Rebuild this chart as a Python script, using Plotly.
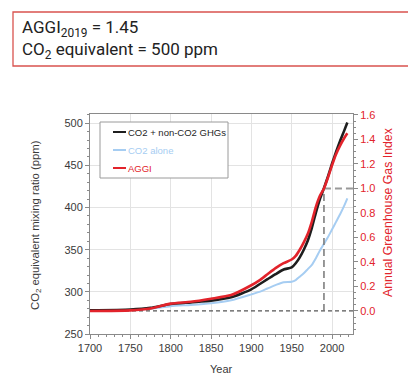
import plotly.graph_objects as go

# ---- data ----
years = [1700, 1750, 1775, 1800, 1825, 1850, 1875, 1900, 1910, 1920, 1930, 1940,
         1950, 1955, 1960, 1965, 1970, 1975, 1980, 1985, 1990, 1995, 2000, 2005,
         2010, 2015, 2019]
co2eq_ppm = [278, 279, 281, 285.5, 287.5, 289.5, 293.5, 303, 309, 315, 321, 326.5,
             329, 334, 341, 350, 361, 376, 394, 410, 423, 437, 452, 466,
             479, 491, 501]
co2_ppm = [278, 278.5, 280, 283, 284.5, 286.5, 290, 297, 300, 304, 308, 311.5,
           312, 314, 318, 322, 327, 332, 340, 349, 357, 365, 374, 383,
           392, 402, 411]
aggi = [0.0, 0.005, 0.02, 0.06, 0.075, 0.10, 0.13, 0.21, 0.25, 0.30, 0.35, 0.39,
        0.42, 0.45, 0.50, 0.56, 0.63, 0.73, 0.85, 0.94, 1.0, 1.09, 1.19, 1.28,
        1.35, 1.41, 1.45]
ref_year = 1990
ref_aggi = 1.0
x_end = 2026
legend_names = ["CO2 + non-CO2 GHGs", "CO2 alone", "AGGI"]

BLACK = "#1e1e1e"
BLUE = "#a6cdf2"
RED = "#e2232b"
GRAY_TXT = "#3a3a3a"
FONT = "Liberation Sans, Arial, sans-serif"

fig = go.Figure()
fig.add_trace(go.Scatter(x=years, y=co2_ppm, mode="lines",
                         line=dict(color=BLUE, width=2, shape="spline", smoothing=0.6),
                         showlegend=False))
fig.add_trace(go.Scatter(x=years, y=co2eq_ppm, mode="lines",
                         line=dict(color=BLACK, width=2.6, shape="spline", smoothing=0.6),
                         showlegend=False))
# reference dashed lines on AGGI axis
fig.add_trace(go.Scatter(x=[years[0], x_end], y=[0, 0], yaxis="y2", mode="lines",
                         line=dict(color="#555555", width=1.2, dash="4px,3px"),
                         showlegend=False))
fig.add_trace(go.Scatter(x=[ref_year, ref_year], y=[0, ref_aggi], yaxis="y2", mode="lines",
                         line=dict(color="#777777", width=1.5, dash="7px,4px"),
                         showlegend=False))
fig.add_trace(go.Scatter(x=[ref_year, x_end], y=[ref_aggi, ref_aggi], yaxis="y2", mode="lines",
                         line=dict(color="#999999", width=2, dash="7px,4px"),
                         showlegend=False))
fig.add_trace(go.Scatter(x=years, y=aggi, yaxis="y2", mode="lines",
                         line=dict(color=RED, width=2.6, shape="spline", smoothing=0.6),
                         showlegend=False))

# page has an 8px body margin; figure is 408x375 so it fills the 416x383 window
OFF = 8
FW, FH = 416 - OFF, 383 - OFF
# plot area in page pixels: x 90..353, y 114..334
L, R, T, B = 90, 353, 114, 334
W, H = R - L, B - T
def px(x):
    return (x - L) / W
def py(y):
    return (B - y) / H

shapes = []
annotations = []
# title box
shapes.append(dict(type="rect", xref="paper", yref="paper",
                   x0=px(13), x1=px(409), y0=py(66), y1=py(12),
                   line=dict(color="#d9534f", width=1.3), fillcolor="white"))
annotations.append(dict(xref="paper", yref="paper", x=px(20), y=py(39.5),
                        xanchor="left", yanchor="middle", showarrow=False, align="left",
                        text="AGGI<sub>2019</sub> = 1.45<br>CO<sub>2</sub> equivalent = 500 ppm",
                        font=dict(family="Roboto", size=17, color="#222222")))
# axis titles
annotations.append(dict(xref="paper", yref="paper", x=px(36), y=py(225),
                        xanchor="center", yanchor="middle", showarrow=False, textangle=-90,
                        text="CO<sub>2</sub> equivalent mixing ratio (ppm)",
                        font=dict(family=FONT, size=11.3, color=GRAY_TXT)))
annotations.append(dict(xref="paper", yref="paper", x=px(388), y=py(212),
                        xanchor="center", yanchor="middle", showarrow=False, textangle=-90,
                        text="Annual Greenhouse Gas Index",
                        font=dict(family=FONT, size=12.3, color=RED)))
annotations.append(dict(xref="paper", yref="paper", x=px(221), y=py(369),
                        xanchor="center", yanchor="middle", showarrow=False,
                        text="Year", font=dict(family=FONT, size=11, color=GRAY_TXT)))
# manual legend
shapes.append(dict(type="rect", xref="paper", yref="paper",
                   x0=px(100), x1=px(228), y0=py(178), y1=py(122),
                   line=dict(color="#9a9a9a", width=1), fillcolor="white"))
leg_colors = [BLACK, BLUE, RED]
for i, (name, c) in enumerate(zip(legend_names, leg_colors)):
    yy = 132 + 18 * i
    shapes.append(dict(type="line", xref="paper", yref="paper",
                       x0=px(113), x1=px(126), y0=py(yy), y1=py(yy),
                       line=dict(color=c, width=2)))
    annotations.append(dict(xref="paper", yref="paper", x=px(126), y=py(yy),
                            xanchor="left", yanchor="middle", showarrow=False,
                            text=name, font=dict(family=FONT, size=9.5, color=c)))

fig.update_layout(
    width=FW, height=FH,
    margin=dict(l=L - OFF, r=416 - R, t=T - OFF, b=383 - B),
    paper_bgcolor="white", plot_bgcolor="white",
    showlegend=False,
    font=dict(family=FONT, size=11, color=GRAY_TXT),
    shapes=shapes, annotations=annotations,
    xaxis=dict(range=[1700, x_end], tick0=1700, dtick=50, automargin=False,
               showgrid=True, gridcolor="#e3e3e3", gridwidth=1,
               showline=True, linecolor="#8a8a8a", linewidth=1, mirror=True,
               ticks="outside", ticklen=4, tickcolor="#8a8a8a",
               minor=dict(dtick=10, ticks="outside", ticklen=2, tickcolor="#8a8a8a", showgrid=False),
               zeroline=False,
               tickfont=dict(size=11, color=GRAY_TXT)),
    yaxis=dict(range=[250, 511], tick0=250, dtick=50, automargin=False,
               showgrid=True, gridcolor="#e3e3e3", gridwidth=1,
               showline=True, linecolor="#8a8a8a", linewidth=1,
               ticks="outside", ticklen=4, tickcolor="#8a8a8a",
               minor=dict(dtick=10, ticks="outside", ticklen=2, tickcolor="#8a8a8a", showgrid=False),
               zeroline=False,
               tickfont=dict(size=11, color=GRAY_TXT)),
    yaxis2=dict(range=[-0.188, 1.608], overlaying="y", side="right", automargin=False,
                tick0=0, dtick=0.2, tickformat=".1f",
                showgrid=False, zeroline=False,
                showline=True, linecolor="#8a8a8a", linewidth=1,
                ticks="outside", ticklen=4, tickcolor="#8a8a8a",
                minor=dict(dtick=0.05, ticks="outside", ticklen=2, tickcolor="#8a8a8a"),
                tickfont=dict(size=11, color=RED)),
)

fig.write_html("out.html")
